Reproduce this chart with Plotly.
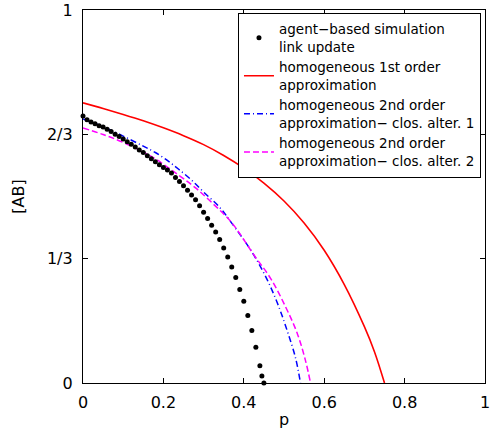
import plotly.graph_objects as go

# agent-based simulation (link update) dots
p_sim = [0.00, 0.01, 0.02, 0.03, 0.04, 0.05, 0.06, 0.07, 0.08, 0.09,
         0.10, 0.11, 0.12, 0.13, 0.14, 0.15, 0.16, 0.17, 0.18, 0.19,
         0.20, 0.21, 0.22, 0.23, 0.24, 0.25, 0.26, 0.27, 0.28, 0.29,
         0.30, 0.31, 0.32, 0.33, 0.34, 0.35, 0.36, 0.37, 0.38, 0.39,
         0.40, 0.41, 0.42, 0.43, 0.44, 0.445, 0.45]
ab_sim = [0.716, 0.706, 0.700, 0.695, 0.690, 0.686, 0.680, 0.674, 0.667, 0.661,
          0.654, 0.647, 0.640, 0.633, 0.625, 0.618, 0.609, 0.601, 0.593, 0.585,
          0.578, 0.571, 0.563, 0.551, 0.540, 0.529, 0.517, 0.504, 0.491, 0.475,
          0.458, 0.441, 0.423, 0.405, 0.385, 0.362, 0.338, 0.311, 0.283, 0.251,
          0.219, 0.181, 0.141, 0.096, 0.046, 0.019, 0.000]

# homogeneous 1st order approximation
p_first = [0.0, 0.05, 0.10, 0.15, 0.20, 0.25, 0.30, 0.35, 0.40, 0.45,
           0.50, 0.55, 0.60, 0.65, 0.70, 0.725, 0.75]
ab_first = [0.751, 0.736, 0.720, 0.703, 0.684, 0.663, 0.639, 0.610, 0.576, 0.536,
            0.488, 0.429, 0.356, 0.264, 0.151, 0.084, 0.0]

# homogeneous 2nd order approximation - closure alternative 1
p_second1 = [0.0, 0.05, 0.10, 0.15, 0.18, 0.213, 0.238, 0.27, 0.30, 0.34, 0.369, 0.418, 0.455, 0.484, 0.508, 0.529, 0.541]
ab_second1 = [0.708, 0.687, 0.662, 0.635, 0.618, 0.594, 0.573, 0.544, 0.512, 0.471, 0.430, 0.355, 0.284, 0.213, 0.140, 0.066, 0.0]

# homogeneous 2nd order approximation - closure alternative 2
p_second2 = [0.0, 0.05, 0.10, 0.172, 0.238, 0.28, 0.32, 0.369, 0.426, 0.467, 0.504, 0.533, 0.553, 0.566]
ab_second2 = [0.684, 0.666, 0.645, 0.606, 0.557, 0.523, 0.484, 0.431, 0.342, 0.280, 0.204, 0.133, 0.062, 0.0]

x_tickvals = [0, 0.2, 0.4, 0.6, 0.8, 1]
x_ticktext = ["0", "0.2", "0.4", "0.6", "0.8", "1"]
y_tickvals = [0, 1/3, 2/3, 1]
y_ticktext = ["0", "1/3", "2/3", "1"]

FONT = "DejaVu Sans, Liberation Sans, Arial, sans-serif"

fig = go.Figure()
fig.add_trace(go.Scatter(
    x=p_first, y=ab_first, mode="lines", line_shape="spline",
    line=dict(color="#ff0000", width=1.6),
    name="homogeneous 1st order<br>approximation", legendrank=2))
fig.add_trace(go.Scatter(
    x=p_second1, y=ab_second1, mode="lines", line_shape="spline",
    line=dict(color="#0000ff", width=1.5, dash="6px,3px,1px,3px"),
    name="homogeneous 2nd order<br>approximation\u2212 clos. alter. 1", legendrank=3))
fig.add_trace(go.Scatter(
    x=p_second2, y=ab_second2, mode="lines", line_shape="spline",
    line=dict(color="#ff00ff", width=1.5, dash="6px,3px"),
    name="homogeneous 2nd order<br>approximation\u2212 clos. alter. 2", legendrank=4))
fig.add_trace(go.Scatter(
    x=p_sim, y=ab_sim, mode="markers", cliponaxis=False,
    marker=dict(color="black", size=5),
    name="agent\u2212based simulation<br>link update", legendrank=1))

axis_common = dict(
    showline=True, linecolor="black", linewidth=1.3, mirror="allticks",
    ticks="inside", ticklen=5, tickcolor="black", tickwidth=1,
    showgrid=False, zeroline=False, ticklabeloverflow="allow",
    tickfont=dict(family=FONT, size=16, color="black"),
)

fig.update_xaxes(range=[0, 1], tickvals=x_tickvals, ticktext=x_ticktext,
                 title=dict(text="p", font=dict(family=FONT, size=16, color="black"), standoff=2),
                 ticklabelstandoff=5, **axis_common)
fig.update_yaxes(range=[0, 1], tickvals=y_tickvals, ticktext=y_ticktext,
                 title=dict(text="[AB]", font=dict(family=FONT, size=16, color="black"), standoff=18),
                 ticklabelstandoff=6, **axis_common)

fig.update_layout(
    width=491, height=434,
    margin=dict(l=83, r=1, t=8, b=51),
    paper_bgcolor="white", plot_bgcolor="white",
    font=dict(family=FONT, color="black"),
    legend=dict(
        x=0.990, y=0.993, xanchor="right", yanchor="top",
        bgcolor="white", bordercolor="black", borderwidth=1,
        font=dict(family=FONT, size=13.5, color="black"),
        itemwidth=30, tracegroupgap=0,
    ),
)

fig.write_html("out.html")
